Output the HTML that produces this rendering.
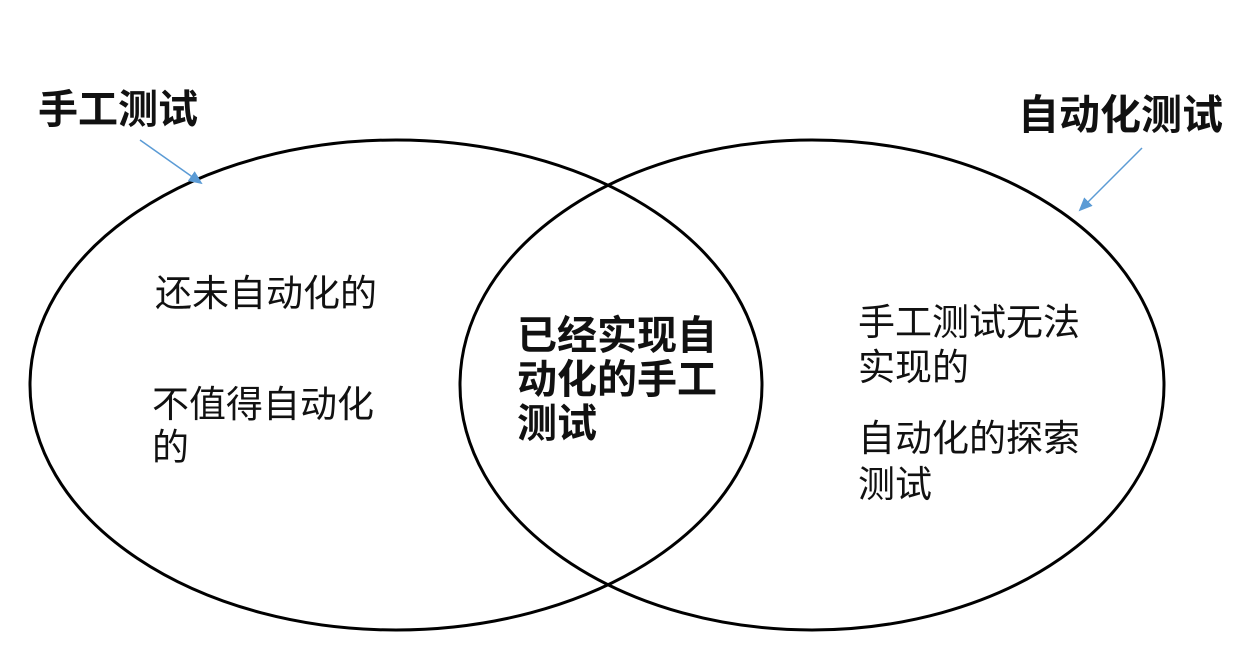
<!DOCTYPE html>
<html><head><meta charset="utf-8"><style>
html,body{margin:0;padding:0;background:#fff;}
.t{position:absolute;font-family:"Liberation Sans","Noto Sans CJK SC",sans-serif;color:#111;white-space:nowrap;line-height:1;}
</style></head><body>
<div style="position:relative;width:1254px;height:655px;overflow:hidden;">
<svg width="1254" height="655" style="position:absolute;left:0;top:0">
<defs><marker id="a" markerWidth="14" markerHeight="12" refX="12" refY="6" orient="auto" markerUnits="userSpaceOnUse"><path d="M0,0 L14,6 L0,12 z" fill="#5b9bd5"/></marker></defs>
<ellipse cx="396" cy="385" rx="366" ry="245" fill="none" stroke="#000" stroke-width="3"/>
<ellipse cx="812" cy="385" rx="352" ry="245" fill="none" stroke="#000" stroke-width="3"/>
<line x1="140" y1="140" x2="201" y2="183" stroke="#5b9bd5" stroke-width="1.5" marker-end="url(#a)"/>
<line x1="1142" y1="148" x2="1080" y2="210" stroke="#5b9bd5" stroke-width="1.5" marker-end="url(#a)"/>
</svg>
<div class="t" style="left:38px;top:90px;font-size:40px;font-weight:bold;">手工测试</div>
<div class="t" style="left:1018px;top:95px;font-size:41px;font-weight:bold;">自动化测试</div>
<div class="t" style="left:155px;top:275px;font-size:37px;">还未自动化的</div>
<div class="t" style="left:152px;top:386px;font-size:37px;">不值得自动化</div>
<div class="t" style="left:152px;top:429px;font-size:37px;">的</div>
<div class="t" style="left:517px;top:314px;font-size:40px;font-weight:bold;line-height:44px;">已经实现自<br>动化的手工<br>测试</div>
<div class="t" style="left:858px;top:304px;font-size:37px;">手工测试无法</div>
<div class="t" style="left:858px;top:349px;font-size:37px;">实现的</div>
<div class="t" style="left:858px;top:420px;font-size:37px;">自动化的探索</div>
<div class="t" style="left:858px;top:466px;font-size:37px;">测试</div>
</div>
</body></html>
